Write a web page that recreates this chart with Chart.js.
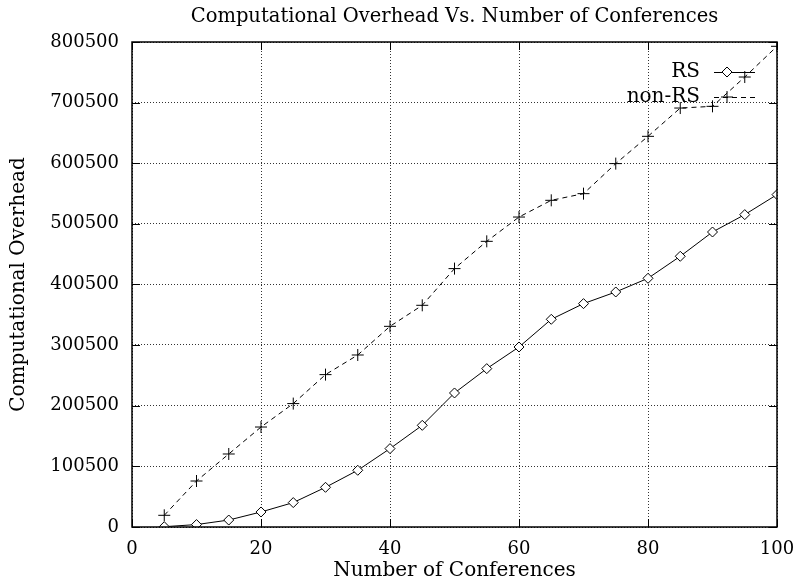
<!DOCTYPE html>
<html>
<head>
<meta charset="utf-8">
<script src="https://cdn.jsdelivr.net/npm/chart.js@4/dist/chart.umd.min.js"></script>
<style>
  html, body { margin: 0; padding: 0; background: #fff; }
  #wrap { width: 796px; height: 583px; }
</style>
</head>
<body>
<div id="wrap"><canvas id="chart" width="796" height="583"></canvas></div>
<script>
// data
const conferences = [5, 10, 15, 20, 25, 30, 35, 40, 45, 50, 55, 60, 65, 70, 75, 80, 85, 90, 95, 100];
const rsOverhead = [500, 4000, 11500, 24800, 40300, 65500, 93600, 129400, 167800, 221200,
                    261400, 297100, 342800, 368700, 387900, 410500, 446800, 486900, 515600, 548600];
const nonRsOverhead = [19300, 75900, 120500, 165000, 203700, 251500, 283900, 331200, 365900, 426500,
                       471500, 511600, 539200, 550200, 599800, 644800, 691500, 694300, 742700, 793400];
const yTicks = [0, 100500, 200500, 300500, 400500, 500500, 600500, 700500, 800500];
const xTicks = [0, 20, 40, 60, 80, 100];

const serif = "'DejaVu Serif', 'Liberation Serif', serif";

function toPoints(xs, ys) {
    return xs.map((x, i) => ({ x: x, y: ys[i] }));
}

// frame + inward tick marks like gnuplot
const framePlugin = {
    id: 'frame',
    afterDatasetsDraw(chart) {
        const { ctx, chartArea: a, scales } = chart;
        ctx.save();
        ctx.strokeStyle = '#000';
        ctx.lineWidth = 1.5;
        ctx.setLineDash([]);
        ctx.strokeRect(a.left, a.top, a.right - a.left, a.bottom - a.top);
        ctx.lineWidth = 1;
        const len = 8;
        ctx.beginPath();
        yTicks.forEach(v => {
            const y = Math.round(scales.y.getPixelForValue(v)) + 0.5;
            ctx.moveTo(a.left, y); ctx.lineTo(a.left + len, y);
            ctx.moveTo(a.right, y); ctx.lineTo(a.right - len, y);
        });
        xTicks.forEach(v => {
            const x = Math.round(scales.x.getPixelForValue(v)) + 0.5;
            ctx.moveTo(x, a.bottom); ctx.lineTo(x, a.bottom - len);
            ctx.moveTo(x, a.top); ctx.lineTo(x, a.top + len);
        });
        ctx.stroke();
        ctx.restore();
    }
};

// key in the top right corner, text left of the sample
const keyPlugin = {
    id: 'key',
    afterDatasetsDraw(chart) {
        const ctx = chart.ctx;
        const a = chart.chartArea;
        const textRight = a.right - 77;
        const lineStart = a.right - 63;
        const lineEnd = a.right - 22;
        const markX = a.right - 50;
        ctx.save();
        ctx.font = '20px ' + serif;
        ctx.textAlign = 'right';
        ctx.textBaseline = 'middle';
        chart.data.datasets.forEach((ds, i) => {
            const y = a.top + 30 + i * 25;
            ctx.fillStyle = '#000';
            ctx.fillText(ds.label, textRight, y);
            ctx.strokeStyle = ds.borderColor;
            ctx.lineWidth = 1;
            ctx.setLineDash(ds.borderDash || []);
            ctx.beginPath();
            ctx.moveTo(lineStart, y + 0.5);
            ctx.lineTo(lineEnd, y + 0.5);
            ctx.stroke();
            ctx.setLineDash([]);
            ctx.fillStyle = ds.pointBackgroundColor;
            ctx.strokeStyle = ds.pointBorderColor;
            Chart.helpers.drawPoint(ctx, {
                pointStyle: ds.pointStyle,
                radius: ds.pointRadius,
                borderWidth: ds.pointBorderWidth,
                rotation: 0
            }, markX, y);
        });
        ctx.restore();
    }
};

new Chart(document.getElementById('chart'), {
    type: 'line',
    data: {
        datasets: [
            {
                label: 'RS',
                data: toPoints(conferences, rsOverhead),
                borderColor: '#000',
                borderWidth: 1,
                pointStyle: 'rectRot',
                pointRadius: 5,
                pointBorderWidth: 1,
                pointBackgroundColor: '#fff',
                pointBorderColor: '#000',
                tension: 0
            },
            {
                label: 'non-RS',
                data: toPoints(conferences, nonRsOverhead),
                borderColor: '#000',
                borderWidth: 1,
                borderDash: [5, 4],
                pointStyle: 'cross',
                pointRadius: 6,
                pointBorderWidth: 1,
                pointBackgroundColor: '#000',
                pointBorderColor: '#000',
                tension: 0
            }
        ]
    },
    options: {
        responsive: false,
        animation: false,
        layout: { padding: { left: 0, right: 19, top: 0, bottom: 0 } },
        plugins: {
            legend: { display: false },
            tooltip: { enabled: false },
            title: {
                display: true,
                fullSize: false,
                text: 'Computational Overhead Vs. Number of Conferences',
                color: '#000',
                font: { family: serif, size: 19.5, weight: 'normal' },
                padding: { top: 5, bottom: 13.6 }
            }
        },
        scales: {
            x: {
                type: 'linear',
                min: 0,
                max: 100,
                afterBuildTicks: s => { s.ticks = xTicks.map(v => ({ value: v })); },
                afterFit: s => { s.height = 56; s.paddingLeft = 0; s.paddingRight = 0; },
                ticks: { color: '#000', padding: 12, font: { family: serif, size: 18 } },
                grid: { color: '#333', drawTicks: false, lineWidth: 1 },
                border: { display: false, dash: [1, 2] },
                title: {
                    display: true,
                    text: 'Number of Conferences',
                    color: '#000',
                    font: { family: serif, size: 20 },
                    padding: { top: 0, bottom: 0 }
                }
            },
            y: {
                type: 'linear',
                min: 0,
                max: 800500,
                afterBuildTicks: s => { s.ticks = yTicks.map(v => ({ value: v })); },
                afterFit: s => { s.width = 132; s.paddingTop = 0; s.paddingBottom = 0; },
                ticks: {
                    color: '#000',
                    padding: 13,
                    font: { family: serif, size: 18 },
                    callback: v => String(v)
                },
                grid: { color: '#333', drawTicks: false, lineWidth: 1 },
                border: { display: false, dash: [1, 2] },
                title: {
                    display: true,
                    text: 'Computational Overhead',
                    color: '#000',
                    font: { family: serif, size: 20 },
                    padding: { top: 7, bottom: 0 }
                }
            }
        }
    },
    plugins: [framePlugin, keyPlugin]
});
</script>
</body>
</html>
